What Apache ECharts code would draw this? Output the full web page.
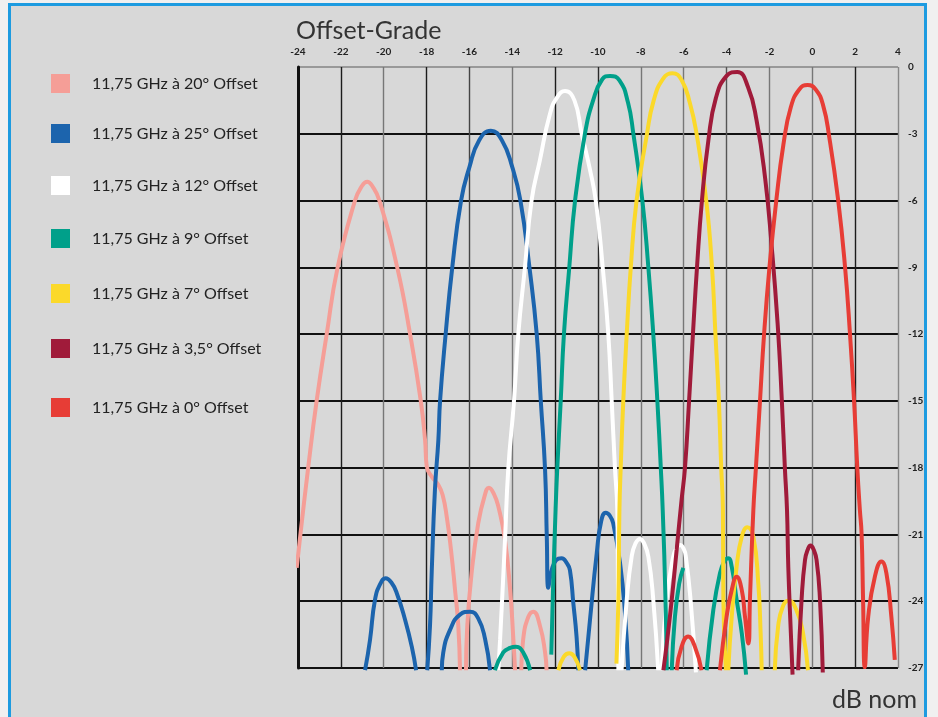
<!DOCTYPE html>
<html>
<head>
<meta charset="utf-8">
<script src="https://cdn.jsdelivr.net/npm/echarts@6/dist/echarts.min.js"></script>
<style>
  html, body { margin: 0; padding: 0; background: #f0f0f0; }
  #frame { position: absolute; left: 8px; top: 3px; width: 919px; height: 740px;
           border: 3px solid #1d9be0; background: #d8d8d8; box-sizing: border-box; }
  #chart { position: absolute; left: 0; top: 0; width: 938px; height: 717px; }
</style>
</head>
<body>
<div id="frame"></div>
<div id="chart"></div>
<script>
// Antenna pattern: relative level (dB) against offset angle (degrees).
// Each series is a list of [offset, dB] points; '-' pairs split the side lobes.
const GAP = ['-', '-'];

const seriesNames = [
  '11,75 GHz à 20° Offset',
  '11,75 GHz à 25° Offset',
  '11,75 GHz à 12° Offset',
  '11,75 GHz à 9° Offset',
  '11,75 GHz à 7° Offset',
  '11,75 GHz à 3,5° Offset',
  '11,75 GHz à 0° Offset'
];
const seriesColors = ['#f59e97', '#1c64ad', '#ffffff', '#00a08a', '#fbd92a', '#a01b3a', '#e73d36'];

const offset20 = [
  [-24.06,-22.5],[-23.9,-21.1],[-23.52,-17.96],[-23.13,-15],[-22.66,-12],[-22.15,-9],[-21.34,-6],
  [-21.05,-5.4],[-20.77,-5.15],[-20.5,-5.4],[-20.2,-6],[-19.37,-9],[-18.77,-12],[-18.27,-15],
  [-18.07,-16.76],[-17.99,-17.96],[-17.76,-18.4],[-17.45,-18.78],[-17.25,-19.23],[-17.06,-20.2],
  [-16.86,-21.7],[-16.67,-23.5],[-16.52,-25.1],[-16.44,-27.1],
  GAP,
  [-16.16,-27.1],[-16.1,-25.1],[-15.9,-22.75],[-15.59,-20.5],[-15.3,-19.3],[-15.09,-18.9],
  [-14.85,-19.2],[-14.65,-19.75],[-14.34,-21.25],[-14.1,-23.5],[-13.95,-25.7],[-13.87,-27.1],
  GAP,
  [-13.58,-27.1],[-13.49,-25.7],[-13.25,-24.7],[-13.02,-24.47],[-12.71,-25.1],[-12.47,-26.3],[-12.4,-27.1]
];

const offset25 = [
  [-20.87,-27.1],[-20.64,-25.74],[-20.41,-23.95],[-20.15,-23.2],[-19.91,-22.97],[-19.65,-23.15],
  [-19.39,-23.64],[-19.0,-24.84],[-18.69,-26.04],[-18.49,-27.1],
  GAP,
  [-17.29,-27.1],[-17.22,-26.3],[-16.91,-25.3],[-16.44,-24.6],[-15.97,-24.47],[-15.59,-24.77],
  [-15.27,-25.7],[-15.04,-27.1],
  GAP,
  [-17.97,-27.1],[-17.84,-25.1],[-17.76,-22.7],[-17.61,-19.0],[-17.45,-16.76],[-17.37,-15],
  [-17.11,-12],[-16.8,-9],[-16.39,-6],[-16.0,-4.5],[-15.55,-3.3],[-15.0,-2.86],[-14.48,-3.3],
  [-14.0,-4.5],[-13.62,-6],[-13.2,-9],[-12.86,-12],[-12.67,-15],[-12.47,-18.1],[-12.39,-21.1],
  [-12.32,-23.4],[-12.16,-22.6],[-11.95,-22.15],[-11.7,-22.07],[-11.45,-22.3],[-11.31,-22.6],
  [-11.15,-24.1],[-11.0,-25.6],[-10.92,-27.1],
  GAP,
  [-10.6,-27.1],[-10.37,-24.8],[-10.06,-21.85],[-9.85,-20.4],[-9.64,-20.02],[-9.45,-20.15],
  [-9.29,-20.5],[-8.97,-22.3],[-8.74,-24.54],[-8.59,-27.1]
];

const offset12 = [
  [-14.65,-27.1],[-14.57,-25.74],[-14.34,-21.25],[-14.19,-18.1],[-13.92,-15],[-13.72,-12],
  [-13.41,-9],[-13.1,-6],[-12.71,-4.18],[-12.24,-2.1],[-11.9,-1.35],[-11.54,-1.08],[-11.1,-1.5],
  [-10.76,-3],[-10.37,-4.63],[-10.09,-6.1],[-9.78,-9],[-9.52,-12],[-9.36,-15],[-9.21,-18],
  [-9.1,-19.9],[-9.07,-23],[-9.05,-27.1],
  GAP,
  [-8.9,-27.1],[-8.66,-23.94],[-8.43,-22.0],[-8.25,-21.4],[-8.04,-21.2],[-7.85,-21.4],
  [-7.65,-22.0],[-7.42,-23.94],[-7.19,-27.1],
  GAP,
  [-7.03,-27.1],[-6.8,-23.94],[-6.49,-22.0],[-6.33,-21.6],[-6.17,-21.47],[-6.0,-21.65],
  [-5.9,-22.0],[-5.68,-23.94],[-5.43,-27.2]
];

const offset9 = [
  [-14.81,-27.1],[-14.42,-26.3],[-14.1,-26.1],[-13.83,-26.05],[-13.49,-26.3],[-13.17,-27.1],
  GAP,
  [-12.18,-26.4],[-12.1,-23.5],[-11.98,-19.9],[-11.9,-18],[-11.74,-15],[-11.59,-12],[-11.34,-9],
  [-11.07,-6],[-10.61,-3],[-10.22,-1.48],[-9.8,-0.55],[-9.44,-0.4],[-9.0,-0.6],[-8.6,-1.6],
  [-8.35,-3],[-7.93,-6],[-7.65,-9],[-7.42,-12],[-7.23,-15],[-7.07,-18],[-6.98,-19.9],
  [-6.85,-23.94],[-6.79,-27.1],
  GAP,
  [-6.56,-27.1],[-6.41,-24.7],[-6.21,-23.2],[-6.02,-22.5],
  GAP,
  [-4.93,-27.1],[-4.62,-24.4],[-4.31,-22.75],[-4.1,-22.2],[-3.92,-22.07],[-3.76,-22.45],
  [-3.53,-23.94],[-3.29,-25.44],[-3.09,-27.3]
];

const offset7 = [
  [-11.85,-27.1],[-11.6,-26.5],[-11.34,-26.34],[-11.1,-26.5],[-10.84,-27.1],
  GAP,
  [-9.14,-26.8],[-9.05,-23.94],[-9.0,-19.9],[-8.94,-18],[-8.82,-15],[-8.66,-12],[-8.47,-9],
  [-8.2,-6],[-7.73,-3.1],[-7.4,-1.5],[-6.95,-0.51],[-6.53,-0.28],[-6.1,-0.58],[-5.71,-1.63],
  [-5.4,-3],[-4.95,-6],[-4.68,-9],[-4.52,-12],[-4.36,-15],[-4.25,-18],[-4.17,-19.9],
  [-4.15,-23.94],[-4.03,-27.1],
  GAP,
  [-3.92,-27.1],[-3.76,-24.7],[-3.53,-22.45],[-3.29,-21.1],[-3.03,-20.68],[-2.75,-21.1],
  [-2.52,-23.2],[-2.41,-25.44],[-2.36,-27.1],
  GAP,
  [-1.75,-27.1],[-1.59,-25.1],[-1.36,-24.2],[-1.1,-23.97],[-0.74,-24.4],[-0.43,-25.44],[-0.2,-27.1]
];

const offset3_5 = [
  [-6.95,-27.1],[-6.79,-25.9],[-6.56,-23.94],[-6.33,-21.7],[-6.1,-19.45],[-5.94,-18],[-5.75,-15],
  [-5.57,-12],[-5.38,-9],[-5.15,-6],[-4.85,-3.3],[-4.5,-1.4],[-4.0,-0.4],[-3.5,-0.22],
  [-3.0,-0.9],[-2.6,-2.4],[-2.2,-5],[-1.9,-8],[-1.62,-11.5],[-1.42,-15],[-1.28,-18],
  [-1.18,-19.9],[-1.12,-22.45],[-1.0,-25.44],[-0.92,-27.3],
  GAP,
  [-0.66,-27.1],[-0.5,-23.94],[-0.34,-22.15],[-0.2,-21.65],[-0.08,-21.5],[0.05,-21.65],
  [0.2,-22.15],[0.36,-23.94],[0.49,-27.2]
];

const offset0 = [
  [-6.33,-27.1],[-6.1,-26.04],[-5.79,-25.59],[-5.48,-26.04],[-5.17,-27.1],
  GAP,
  [-4.31,-27.1],[-4.0,-24.7],[-3.76,-23.5],[-3.53,-22.9],[-3.29,-23.5],[-3.14,-24.7],
  [-2.98,-25.9],[-2.91,-23.94],[-2.75,-19.9],[-2.63,-18],[-2.44,-15],[-2.25,-12],[-2.0,-9],
  [-1.68,-6],[-1.35,-3.5],[-1.0,-1.8],[-0.6,-1.0],[-0.22,-0.81],[0.15,-1.0],[0.5,-1.7],
  [0.8,-3.2],[1.21,-6],[1.53,-9],[1.76,-12],[1.95,-15],[2.1,-18],[2.22,-19.9],[2.3,-20.95],
  [2.37,-23.94],[2.45,-26.96],[2.61,-24.7],[2.92,-22.9],[3.23,-22.22],[3.46,-22.75],
  [3.69,-24.7],[3.85,-26.64]
];

const seriesData = [offset20, offset25, offset12, offset9, offset7, offset3_5, offset0];

// Legend rows sit at uneven heights down the left margin.
const legendTops = [69, 119, 171, 224, 279, 334, 393];

// Vertical grid line shades, from -24 to +4.
const vGridColors = ['#111','#1c1c1c','#777','#1c1c1c','#444','#777','#1c1c1c','#2a2a2a',
                     '#777','#777','#555','#777','#777','#1c1c1c','#888'];
// Horizontal grid line shades, from -27 to 0.
const hGridColors = ['#111','#111','#111','#111','#111','#111','#111','#111','#111','#999'];

const chart = echarts.init(document.getElementById('chart'), null, { renderer: 'canvas' });

const tickFont = { fontSize: 10, fontWeight: 'bold', color: '#222', fontFamily: 'Lato' };

chart.setOption({
  backgroundColor: 'transparent',
  animation: false,
  title: [
    { text: 'Offset-Grade', left: 291, top: 13,
      textStyle: { fontSize: 25, fontWeight: 'normal', color: '#333', fontFamily: 'Lato' } },
    { text: 'dB nom', right: 16, top: 682,
      textStyle: { fontSize: 25, fontWeight: 'normal', color: '#333', fontFamily: 'Lato' } }
  ],
  legend: seriesNames.map((name, i) => ({
    data: [name],
    left: 46,
    top: legendTops[i],
    icon: 'rect',
    itemWidth: 19,
    itemHeight: 19,
    selectedMode: false,
    textStyle: { fontSize: 16, color: '#222', fontFamily: 'Lato', padding: [0, 0, 0, 17] }
  })),
  grid: { left: 298, top: 67, right: 40, bottom: 49, containLabel: false },
  xAxis: {
    type: 'value', position: 'top', min: -24, max: 4, interval: 2,
    axisLine: { show: false }, axisTick: { show: false },
    axisLabel: Object.assign({ margin: 10 }, tickFont),
    splitLine: { show: true, lineStyle: { color: vGridColors, width: 1.4 } }
  },
  yAxis: [
    {
      type: 'value', position: 'right', min: -27, max: 0, interval: 3,
      axisLine: { show: false }, axisTick: { show: false },
      axisLabel: Object.assign({ margin: 10, align: 'left' }, tickFont),
      splitLine: { show: true, lineStyle: { color: hGridColors, width: 2 } }
    },
    {
      type: 'value', position: 'left', min: -27, max: 0, interval: 3,
      axisLine: { show: true, lineStyle: { color: '#111', width: 3 } },
      axisTick: { show: false }, axisLabel: { show: false }, splitLine: { show: false }
    }
  ],
  series: seriesNames.map((name, i) => ({
    name: name,
    type: 'line',
    data: seriesData[i],
    showSymbol: false,
    symbol: 'none',
    smooth: 0.5,
    connectNulls: false,
    clip: false,
    color: seriesColors[i],
    itemStyle: { color: seriesColors[i] },
    lineStyle: { color: seriesColors[i], width: 4, cap: 'butt' },
    emphasis: { disabled: true }
  }))
});
</script>
</body>
</html>
